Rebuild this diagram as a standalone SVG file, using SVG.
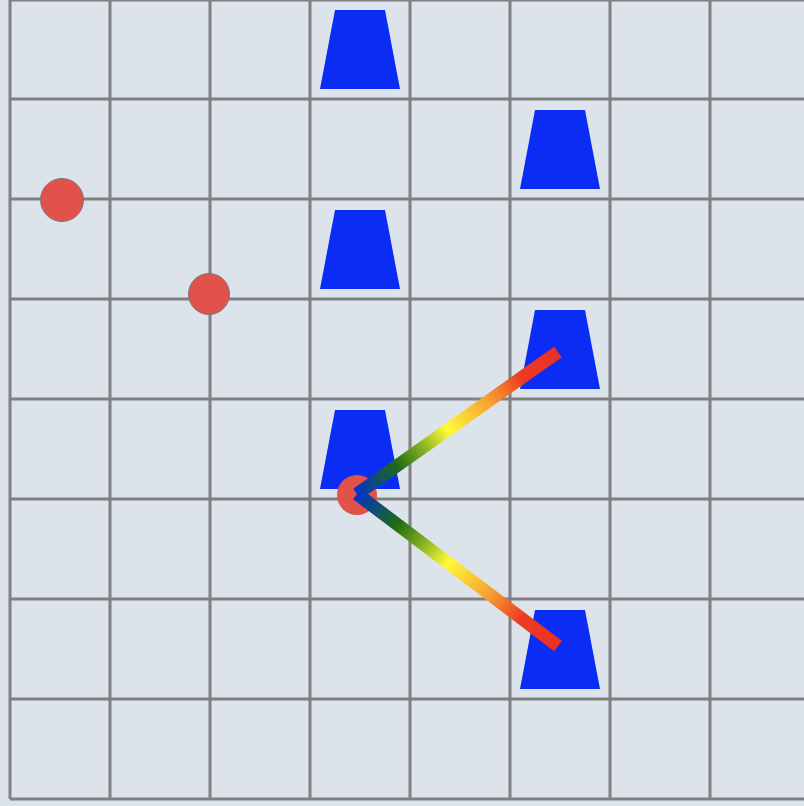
<svg xmlns="http://www.w3.org/2000/svg" width="804" height="806" viewBox="0 0 804 806">
<defs>
<style>
.grid line{stroke:#808080;stroke-width:3}
.trap{fill:#0a2cf5}
.dot{fill:#e2524b;stroke:#7a7a7a;stroke-width:1}
.ray{stroke-width:13;fill:none;stroke-linecap:butt}
</style>
<linearGradient id="g1" gradientUnits="userSpaceOnUse" x1="357" y1="494" x2="558" y2="352">
<stop offset="0" stop-color="#0033cc"/>
<stop offset="0.2" stop-color="#1f6b14"/>
<stop offset="0.32" stop-color="#7fae22"/>
<stop offset="0.45" stop-color="#fffa3a"/>
<stop offset="0.66" stop-color="#f5a030"/>
<stop offset="0.82" stop-color="#ee3a22"/>
<stop offset="1" stop-color="#ea3222"/>
</linearGradient>
<linearGradient id="g2" gradientUnits="userSpaceOnUse" x1="357" y1="494" x2="558" y2="646">
<stop offset="0" stop-color="#0033cc"/>
<stop offset="0.2" stop-color="#1f6b14"/>
<stop offset="0.32" stop-color="#7fae22"/>
<stop offset="0.45" stop-color="#fffa3a"/>
<stop offset="0.66" stop-color="#f5a030"/>
<stop offset="0.82" stop-color="#ee3a22"/>
<stop offset="1" stop-color="#ea3222"/>
</linearGradient>
<polygon id="tp" points="-25,0 25,0 40,79 -40,79"/>
</defs>
<rect width="804" height="806" fill="#dde3ea"/>
<g class="grid" id="grid">
<line x1="10" y1="0" x2="10" y2="799"/>
<line x1="110" y1="0" x2="110" y2="799"/>
<line x1="210" y1="0" x2="210" y2="799"/>
<line x1="310" y1="0" x2="310" y2="799"/>
<line x1="410" y1="0" x2="410" y2="799"/>
<line x1="510" y1="0" x2="510" y2="799"/>
<line x1="610" y1="0" x2="610" y2="799"/>
<line x1="710" y1="0" x2="710" y2="799"/>
<line x1="10" y1="0" x2="804" y2="0"/>
<line x1="10" y1="99" x2="804" y2="99"/>
<line x1="10" y1="199" x2="804" y2="199"/>
<line x1="10" y1="299" x2="804" y2="299"/>
<line x1="10" y1="399" x2="804" y2="399"/>
<line x1="10" y1="499" x2="804" y2="499"/>
<line x1="10" y1="599" x2="804" y2="599"/>
<line x1="10" y1="699" x2="804" y2="699"/>
<line x1="10" y1="799" x2="804" y2="799"/>
</g>
<g id="t1"><use href="#tp" class="trap" x="360" y="10"/></g>
<g id="t2"><use href="#tp" class="trap" x="560" y="110"/></g>
<g id="t3"><use href="#tp" class="trap" x="360" y="210"/></g>
<g id="t4"><use href="#tp" class="trap" x="560" y="310"/></g>
<g id="t5"><use href="#tp" class="trap" x="360" y="410"/></g>
<g id="t6"><use href="#tp" class="trap" x="560" y="610"/></g>
<g id="c1"><circle class="dot" cx="62" cy="200" r="21.5"/></g>
<g id="c2"><circle class="dot" cx="209" cy="294" r="20.5"/></g>
<g id="c3"><circle class="dot" cx="357" cy="495" r="20" style="stroke:none"/></g>
<g id="connectors">
<line class="ray" x1="357" y1="494" x2="558" y2="352" stroke="url(#g1)"/>
<line class="ray" x1="357" y1="494" x2="558" y2="646" stroke="url(#g2)"/>
</g>
</svg>
